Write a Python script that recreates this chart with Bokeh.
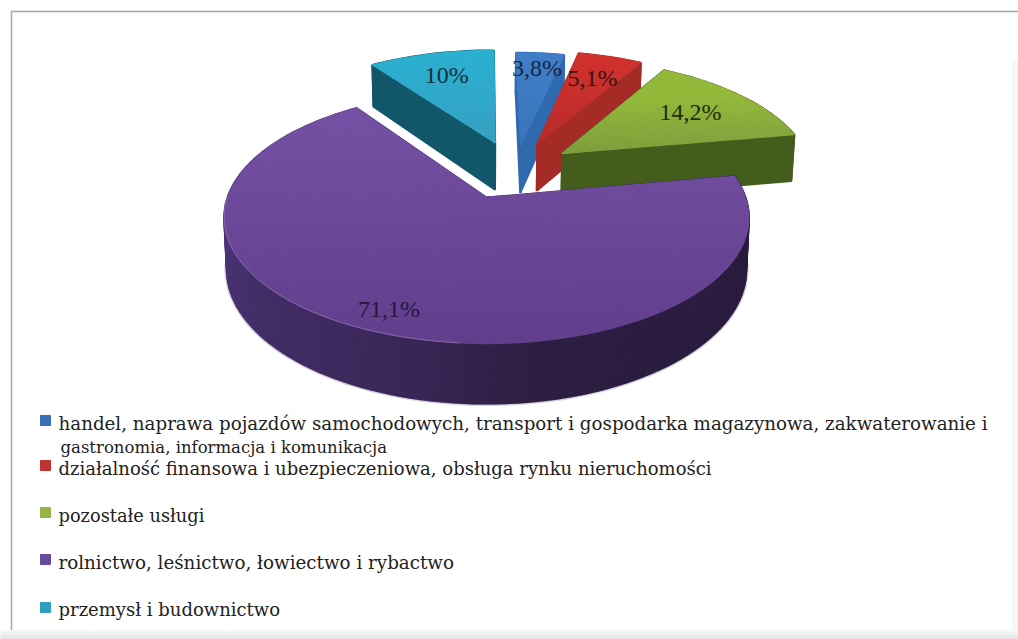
import math
from bokeh.plotting import figure
from bokeh.core.properties import value
from bokeh.embed import file_html
from bokeh.resources import INLINE

# ---- data ----
slice_names = ["handel", "finanse", "uslugi", "rolnictwo", "przemysl"]
slice_values = [3.8, 5.1, 14.2, 71.1, 10.0]
slice_labels = ["3,8%", "5,1%", "14,2%", "71,1%", "10%"]
legend_lines = [
    "handel, naprawa  pojazdów  samochodowych, transport i gospodarka  magazynowa,  zakwaterowanie  i",
    "gastronomia, informacja  i komunikacja",
    "działalność finansowa i ubezpieczeniowa,  obsługa rynku nieruchomości",
    "pozostałe usługi",
    "rolnictwo, leśnictwo, łowiectwo i rybactwo",
    "przemysł i budownictwo",
]

# ---- styles ----
top_hi = ["#3f7fc8", "#d0322e", "#94b93a", "#7653a6", "#2bb0d0"]
top_lo = ["#3a74bb", "#b82c2a", "#7d9e3e", "#623f8c", "#36a0c2"]
face_col = ["#2f69ae", "#a42b26", "#445d1c", "#3a2860", "#12566a"]
label_col = ["#17263f", "#3a1212", "#1f2f0c", "#241640", "#12303f"]
label_r = [0.825, 0.733, 0.70, 0.857, 0.733]
explode = [(0.145, 0.45), (0.215, 0.47), (0.314, 0.381), (0.004, 0.0), (0.04, 0.48)]
legend_cols = ["#3a6fb5", "#c0322f", "#94b545", "#6a4a9c", "#2f9fc0"]
legend_y = [420, 465, 512, 559, 607]
text_rows = [(58, 423, 18.25), (60, 447, 16.5), (58, 468, 18), (58, 515, 17.8), (58, 562, 18.3), (58, 609, 18)]

CX, CY, R, S, P, D = 485.0, 197.0, 259.0, 122.8, 0.159, 50.5


def proj(u, v, low=False):
    w = 1 + P * v
    k = 0.99 if low else 1.0
    return CX + k * R * u / w, CY - S * v / w + (D / w if low else 0)


def hex2(c):
    return [int(c[i:i + 2], 16) for i in (1, 3, 5)]


def mix(a, b, t):
    t = max(0.0, min(1.0, t))
    x, y = hex2(a), hex2(b)
    return "#%02x%02x%02x" % tuple(round(x[i] + (y[i] - x[i]) * t) for i in range(3))


def ramp(stops, t):
    for (t0, c0), (t1, c1) in zip(stops, stops[1:]):
        if t <= t1:
            return mix(c0, c1, (t - t0) / (t1 - t0))
    return stops[-1][1]


rim_stops = [(60, "#271a3a"), (170, "#2c1e42"), (195, "#3a2656"), (240, "#44306a"), (270, "#4d3278"), (340, "#4d3278")]

p = figure(width=1018, height=639, x_range=(0, 1018), y_range=(639, 0),
           toolbar_location=None, output_backend="svg", min_border=0,
           background_fill_color="white", border_fill_color="white", outline_line_color=None)
p.xaxis.visible = False
p.yaxis.visible = False
p.grid.visible = False

# frame
p.quad(left=[1012], right=[1018], top=[60], bottom=[639], fill_color="#f7f7f7", line_color="#f7f7f7")
p.line([11, 11, 1018], [632, 11, 11], line_color="#a8a8a8", line_width=1.5)
for k, c in enumerate(["#f6f6f6", "#f0f0f0", "#eaeaea", "#e6e6e6"]):
    p.quad(left=[0], right=[1018], top=[630 + 2.5 * k], bottom=[630 + 2.5 * (k + 1)], fill_color=c, line_color=c)

total = sum(slice_values)
starts, ends, a = [], [], 0.0
for val in slice_values:
    starts.append(a)
    a += val / total * 360
    ends.append(a)


def uv(i, th, r=1.0):
    ou, ov = explode[i]
    t = math.radians(th)
    return ou + r * math.sin(t), ov + r * math.cos(t)


def draw_slice(i):
    a0, a1 = starts[i], ends[i]
    ou, ov = explode[i]
    xs, ys, cols = [], [], []
    if i == 3:
        # soft edge below the rim
        arc = [proj(*uv(i, a0 + (a1 - a0) * k / 120), low=True) for k in range(121)]
        p.line([q[0] for q in arc], [q[1] for q in arc], line_color="#d8d4de", line_width=5)
        p.line([q[0] for q in arc], [q[1] for q in arc], line_color="#a89fb8", line_width=2.5)
    # radial faces
    for th in (a0, a1):
        t0 = proj(ou, ov)
        t1 = proj(*uv(i, th))
        b1 = proj(*uv(i, th), low=True)
        b0 = proj(ou, ov, low=True)
        xs.append([t0[0], t1[0], b1[0], b0[0]])
        ys.append([t0[1], t1[1], b1[1], b0[1]])
        cols.append(face_col[i])
    # outer rim strips
    n = max(4, int((a1 - a0) / 2))
    for k in range(n):
        th0 = a0 + (a1 - a0) * k / n
        th1 = a0 + (a1 - a0) * (k + 1) / n
        pts = [proj(*uv(i, th0)), proj(*uv(i, th1)), proj(*uv(i, th1), low=True), proj(*uv(i, th0), low=True)]
        xs.append([q[0] for q in pts])
        ys.append([q[1] for q in pts])
        cols.append(ramp(rim_stops, (th0 + th1) / 2) if i == 3 else face_col[i])
    p.patches(xs, ys, fill_color=cols, line_color=cols, line_width=2)
    # top surface mesh, coloured by its height in the picture
    xs, ys, cols = [], [], []
    nr = 22
    na = max(6, int((a1 - a0) / 3))
    for j in range(nr):
        r0, r1 = j / nr, (j + 1) / nr
        for k in range(na):
            th0 = a0 + (a1 - a0) * k / na
            th1 = a0 + (a1 - a0) * (k + 1) / na
            pts = [proj(*uv(i, th0, r0)), proj(*uv(i, th0, r1)), proj(*uv(i, th1, r1)), proj(*uv(i, th1, r0))]
            px = [q[0] for q in pts]
            py = [q[1] for q in pts]
            xs.append(px)
            ys.append(py)
            if i == 3:
                tt = (sum(py) / 4 - 90.0) / 253.0
            else:
                ymin = proj(*uv(i, 0.5 * (a0 + a1)))[1]
                ymax = proj(ou, ov)[1]
                tt = (sum(py) / 4 - ymin) / max(1.0, ymax - ymin)
            cols.append(mix(top_hi[i], top_lo[i], tt))
    p.patches(xs, ys, fill_color=cols, line_color=cols, line_width=1.3)
    if i == 3:
        # thin highlight on the lit rim edge
        arc = [proj(*uv(i, 185 + 85 * k / 40)) for k in range(41)]
        p.line([q[0] for q in arc], [q[1] for q in arc], line_color="#8a72b2", line_width=1, line_alpha=0.8)


for i in (4, 0, 1, 2, 3):
    draw_slice(i)

# data labels
for i, lab in enumerate(slice_labels):
    mid = 0.5 * (starts[i] + ends[i])
    lx, ly = proj(*uv(i, mid, label_r[i]))
    p.text([lx], [ly], text=[lab], text_font=value("Liberation Serif"), text_font_size="24px",
           text_color=label_col[i], text_align="center", text_baseline="middle")

# legend
p.scatter([45] * 5, legend_y, marker="square", size=10, fill_color=legend_cols, line_color=legend_cols)
for line, (tx, ty, fs) in zip(legend_lines, text_rows):
    p.text([tx], [ty], text=[line], text_font=value("DejaVu Serif"), text_font_size=f"{fs}px",
           text_color="#222222", text_align="left", text_baseline="middle")

open("out.html", "w").write(file_html(p, INLINE))
